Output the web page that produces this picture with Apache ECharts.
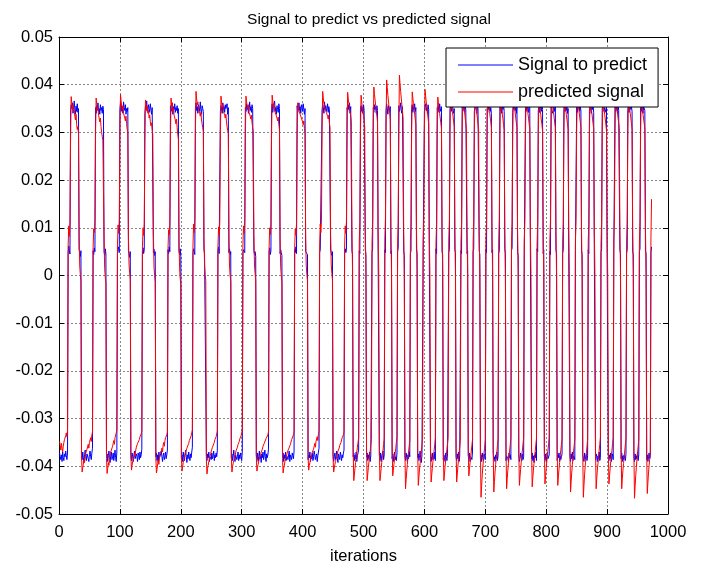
<!DOCTYPE html>
<html>
<head>
<meta charset="utf-8">
<script src="https://cdn.jsdelivr.net/npm/echarts@6/dist/echarts.min.js"></script>
<style>html,body{margin:0;padding:0;background:#fff}#c{width:703px;height:570px}</style>
</head>
<body>
<div id="c"></div>
<script>
// values in units of 1e-4, one value per iteration (1..N)
const signalToPredict = [
-372,-380,-386,-376,-390,-370,-382,-388,-374,-380,-368,-378,-386,-372,
48,62,52,45,345,358,350,362,340,352,366,348,338,355,344,360,342,350,55,48,40,52,-378,-386,-370,-382,-392,-376,-366,-380,-388,-374,-370,-384,-390,-375,-368,-380,-386,-372,-362,
52,44,58,50,352,340,356,348,362,344,350,338,358,346,352,340,355,348,50,42,56,45,-382,-374,-390,-378,-368,-384,-392,-376,-370,-386,-380,-372,-388,-378,-366,-382,-390,-370,
46,55,60,48,348,362,344,356,350,340,364,352,346,358,338,350,344,352,52,46,38,50,-376,-388,-372,-380,-390,-378,-368,-384,-386,-374,-380,-390,-372,-378,-386,-370,-382,-376,-364,
50,58,46,54,340,356,350,366,344,352,358,342,350,360,346,338,352,348,48,55,42,50,-380,-372,-388,-376,-392,-370,-382,-386,-374,-368,-380,-390,-378,-372,-386,-380,-370,-384,-376,-366,
54,46,60,50,356,344,350,362,338,354,348,360,342,352,346,356,340,350,50,44,56,40,-384,-376,-390,-370,-382,-388,-374,-366,-380,-392,-376,-384,-370,-380,-388,-374,-382,-370,-360,
48,56,50,44,350,362,346,354,340,358,352,344,364,348,338,356,350,344,54,46,50,42,-378,-388,-374,-382,-370,-390,-380,-376,-386,-372,-384,-378,-368,-388,-376,-382,-372,-380,-366,
52,60,46,50,344,356,352,340,362,348,354,342,358,350,346,360,338,352,48,56,44,50,-382,-374,-388,-378,-366,-384,-390,-376,-372,-386,-380,-370,-388,-376,-384,-372,-380,-388,-368,
46,54,58,48,352,344,360,348,356,340,350,364,346,354,342,358,350,346,52,44,50,40,-376,-386,-372,-390,-380,-368,-384,-378,-392,-374,-382,-370,-386,-378,-366,-380,-390,-374,-382,-376,-364,
50,58,44,52,348,360,342,354,350,366,344,352,338,356,348,342,360,350,46,54,48,42,-380,-372,-390,-376,-384,-370,-388,-378,-374,-386,-382,-368,-390,-376,-380,-386,-372,-378,-384,-368,
54,48,60,46,356,342,350,362,346,354,340,358,352,344,360,348,338,350,50,46,54,44,-386,-376,-382,-370,-390,-378,-384,-372,-388,-380,-368,-376,-386,-382,-374,-390,-378,-370,-362,
48,54,50,58,346,358,352,340,364,348,356,344,350,360,342,354,348,352,54,48,42,50,-376,-390,-380,-372,-386,-378,-368,-384,-392,-374,-380,-386,-370,-378,-388,-376,-382,-372,-366,
50,56,48,54,352,344,358,348,362,340,354,350,52,44,-380,-372,-388,-376,-384,-370,-390,-378,-374,-366,
52,46,348,356,344,352,340,358,346,350,54,44,-380,-372,-388,-376,-384,-370,-390,-378,-374,
48,56,352,342,358,348,354,340,356,346,50,46,-376,-386,-372,-390,-378,-382,-368,-386,-376,
54,48,346,360,350,338,356,352,344,354,46,52,-384,-374,-390,-378,-370,-386,-380,-388,-372,
50,58,356,344,352,362,346,340,354,350,52,42,-378,-388,-372,-382,-390,-376,-384,-370,-380,
46,52,350,358,342,354,348,360,344,352,56,46,-382,-374,-388,-378,-368,-386,-392,-376,-372,
52,48,344,354,360,346,352,340,358,348,48,52,-376,-390,-380,-372,-386,-378,-384,-370,-388,
56,46,352,346,356,342,360,350,344,354,50,44,-386,-376,-382,-390,-372,-380,-388,-374,-378,
48,54,348,358,344,352,362,346,340,350,54,48,-380,-388,-374,-384,-370,-390,-378,-382,
52,46,356,344,350,360,342,354,348,352,46,52,-378,-384,-372,-390,-380,-376,-386,-370,
50,56,344,352,358,348,340,356,350,346,52,44,-384,-376,-390,-372,-382,-388,-374,-380,-386,
54,48,350,342,356,348,362,344,352,340,48,54,-372,-386,-380,-390,-376,-384,-370,-388,-378,
46,52,358,346,352,340,354,348,360,344,56,46,-388,-378,-374,-384,-390,-372,-382,-376,-386,
52,58,342,356,348,362,346,352,340,354,50,42,-376,-390,-384,-372,-380,-388,-374,-386,-380,
48,46,352,344,360,348,356,342,350,358,52,48,-384,-372,-388,-378,-392,-376,-382,-370,-388,
56,50,346,354,342,358,350,344,362,348,46,54,-378,-386,-374,-390,-380,-370,-384,-388,-376,
50,44,354,346,350,340,358,352,344,356,54,46,-388,-376,-382,-372,-390,-378,-386,-380,-374,
46,54,348,360,344,352,346,356,340,350,48,52,-380,-390,-374,-384,-370,-388,-378,-382,-386,
52,48,356,342,352,348,362,344,354,346,52,44,-376,-384,-390,-372,-386,-380,-374,-388,-378,
54,46,344,358,350,340,354,348,356,342,50,54,-386,-374,-380,-390,-378,-384,-370,-388,-382,
48,56,350,346,360,344,352,356,342,354,46,50,-378,-388,-376,-384,-372,-390,-380,-374,-386,
52,50,358,344,348,354,340,360,346,350,54,46,-384,-372,-390,-378,-386,-376,-382,-388,-374,
46,54,346,356,342,352,360,348,354,344,50,44,-380,-390,-374,-386,-378,-384,-370,-388,-376,
50,56,352,344,358,348,340,354,350,346,52,46,-386,-376,-390,-380,-372,-384,-378,48,60
];
const predictedSignal = [
-348,-356,-366,-352,-362,-370,-358,-350,-344,-340,-336,-330,-338,-326,
62,104,82,110,288,375,362,350,358,342,348,334,326,338,316,306,312,298,84,20,2,-12,-380,-412,-402,-396,-386,-392,-378,-372,-376,-364,-360,-354,-362,-350,-346,-340,-348,-334,-328,
58,98,90,114,296,372,358,346,352,336,340,322,330,312,300,292,284,280,76,14,-4,-16,-384,-415,-404,-392,-398,-384,-376,-370,-366,-372,-358,-352,-346,-354,-340,-336,-330,-324,
64,106,88,116,300,380,366,354,348,356,340,344,330,324,334,318,306,300,80,24,4,-8,-378,-408,-398,-390,-394,-380,-372,-378,-366,-360,-364,-352,-348,-356,-344,-338,-342,-332,-326,
60,100,84,108,284,368,360,346,354,340,346,330,336,322,314,320,306,296,86,18,0,-14,-382,-414,-406,-394,-388,-396,-382,-374,-378,-368,-362,-370,-356,-350,-358,-346,-340,-344,-334,-328,
56,96,86,112,290,372,356,362,344,350,336,340,326,318,328,310,296,286,78,16,-6,-18,-380,-410,-400,-392,-386,-390,-376,-370,-374,-362,-358,-366,-352,-346,-350,-342,-336,-330,-324,
62,108,90,118,302,386,370,358,364,348,352,340,334,342,326,318,310,302,82,22,2,-10,-386,-416,-404,-398,-390,-394,-380,-374,-368,-372,-360,-356,-362,-350,-344,-348,-338,-332,-326,
58,102,86,112,294,376,362,352,358,344,348,336,330,338,322,312,304,298,80,20,0,-12,-382,-412,-400,-394,-388,-392,-378,-372,-366,-370,-360,-354,-358,-348,-342,-346,-336,-330,-324,
62,104,88,114,296,376,364,356,350,358,342,346,334,328,336,320,310,302,84,22,4,-10,-380,-410,-402,-396,-390,-384,-388,-376,-370,-374,-364,-358,-362,-352,-348,-354,-342,-338,-344,-334,-328,
60,100,86,110,292,378,366,354,360,346,350,338,342,330,324,332,316,306,78,18,0,-14,-384,-414,-404,-398,-390,-394,-382,-376,-370,-374,-364,-360,-366,-354,-350,-344,-348,-340,-334,-328,
58,98,84,108,286,362,354,346,350,338,342,330,334,322,316,324,308,298,82,20,2,-12,-380,-408,-398,-392,-386,-390,-376,-370,-374,-364,-358,-352,-360,-348,-344,-338,-346,-332,-326,
64,108,90,116,304,386,372,360,364,350,354,342,346,334,328,336,320,310,84,24,4,-8,-382,-412,-404,-396,-390,-392,-380,-374,-368,-372,-362,-356,-360,-350,-346,-340,-344,-334,-328,
62,104,88,114,300,384,370,360,352,344,334,322,96,10,-360,-430,-418,-404,-392,-380,-370,-360,-350,-340,
70,110,296,378,364,352,344,334,324,312,96,6,-362,-430,-416,-402,-390,-380,-368,-356,-344,
66,116,304,395,380,368,356,346,334,322,92,10,-358,-430,-418,-404,-392,-378,-366,-354,-342,
74,120,310,410,394,378,366,352,340,326,100,4,-354,-420,-408,-396,-384,-372,-362,-350,-338,
68,114,312,420,402,386,372,358,344,330,94,-2,-366,-447,-428,-410,-396,-382,-370,-358,-346,
72,110,298,385,372,360,350,338,328,316,98,8,-364,-440,-422,-406,-394,-380,-368,-356,-342,
70,118,302,390,376,364,352,342,330,318,90,6,-360,-433,-418,-404,-390,-378,-366,-354,-340,
66,112,296,374,362,350,340,330,320,308,96,10,-358,-430,-416,-400,-388,-376,-364,-352,-340,
72,114,300,380,366,354,344,334,322,312,94,4,-362,-433,-416,-400,-386,-372,-360,-346,
68,110,298,378,364,352,342,330,320,308,100,8,-356,-420,-406,-392,-380,-368,-356,-344,
70,116,296,376,362,350,340,330,318,306,92,2,-370,-465,-440,-418,-400,-386,-372,-358,-344,
74,112,300,380,366,356,344,332,322,310,96,6,-366,-454,-432,-412,-396,-382,-370,-356,-342,
68,118,298,374,362,350,338,328,316,304,90,0,-364,-447,-426,-408,-394,-380,-366,-354,-340,
72,110,302,378,364,352,342,330,320,310,98,8,-362,-440,-422,-406,-392,-378,-366,-352,-340,
70,114,300,376,362,352,340,330,318,308,94,4,-364,-443,-424,-408,-394,-380,-368,-354,-342,
66,112,296,372,360,348,338,326,316,304,96,6,-360,-437,-420,-404,-390,-378,-364,-352,-340,
72,116,302,378,366,354,342,332,320,310,92,2,-362,-440,-422,-406,-392,-378,-366,-354,-342,
68,110,298,374,362,350,338,328,318,306,98,8,-366,-454,-432,-412,-396,-382,-368,-356,-342,
74,118,304,380,366,354,344,332,322,310,94,4,-370,-465,-440,-418,-400,-386,-372,-358,-344,
70,112,300,376,362,350,340,330,318,308,96,6,-364,-447,-426,-408,-394,-380,-366,-354,-340,
66,114,296,372,360,348,338,328,316,304,92,2,-360,-437,-420,-404,-390,-378,-366,-352,-340,
72,116,302,378,364,352,342,330,320,310,98,8,-364,-447,-426,-408,-394,-380,-368,-354,-342,
70,110,300,376,362,350,340,330,318,306,94,4,-370,-467,-442,-420,-402,-386,-372,-358,-344,
68,114,298,374,362,350,338,328,318,306,96,6,-368,-457,-434,-414,-398,-384,-370,80,160
];
const UNIT = 1e-4;
const seriesNames = ['Signal to predict', 'predicted signal'];
const titleText = 'Signal to predict vs predicted signal';
const xName = 'iterations';
const xRange = [0, 1000, 100];
const yRange = [-0.05, 0.05, 0.01];

const FONT = '"Liberation Sans", Arial, sans-serif';
const toXY = arr => arr.map((v, i) => [i + 1, v * UNIT]);

const chart = echarts.init(document.getElementById('c'), null, {renderer: 'canvas'});
const axisCommon = {
  axisLine: {show: true, onZero: false, lineStyle: {color: '#000', width: 1}},
  axisTick: {show: true, inside: true, length: 5, lineStyle: {color: '#000'}},
};
chart.setOption({
  animation: false,
  backgroundColor: '#fff',
  title: {
    text: titleText, left: 364, top: 7, textAlign: 'center',
    textStyle: {fontFamily: FONT, fontSize: 15.5, fontWeight: 'normal', color: '#000'}
  },
  grid: {left: 59, right: 35, top: 37, bottom: 53},
  legend: {
    orient: 'vertical', left: 446, top: 48,
    padding: [7, 11, 5, 12], itemGap: 7, itemWidth: 55, itemHeight: 1,
    icon: 'rect',
    backgroundColor: '#fff', borderColor: '#000', borderWidth: 1,
    textStyle: {fontFamily: FONT, fontSize: 18, color: '#000', lineHeight: 20},
    data: seriesNames
  },
  xAxis: [
    Object.assign({
      type: 'value', min: xRange[0], max: xRange[1], interval: xRange[2],
      name: xName, nameLocation: 'middle', nameGap: 34,
      nameTextStyle: {fontFamily: FONT, fontSize: 16.5, color: '#000'},
      axisLabel: {fontFamily: FONT, fontSize: 16.5, color: '#000', margin: 10, formatter: v => String(v)},
      splitLine: {show: true, lineStyle: {color: '#888', type: [2, 2], width: 1}}
    }, axisCommon),
    Object.assign({
      type: 'value', position: 'top', min: xRange[0], max: xRange[1], interval: xRange[2],
      axisLabel: {show: false}, splitLine: {show: false}
    }, axisCommon)
  ],
  yAxis: [
    Object.assign({
      type: 'value', min: yRange[0], max: yRange[1], interval: yRange[2],
      axisLabel: {fontFamily: FONT, fontSize: 16.5, color: '#000', margin: 6},
      splitLine: {show: true, lineStyle: {color: '#888', type: [2, 2], width: 1}}
    }, axisCommon),
    Object.assign({
      type: 'value', position: 'right', min: yRange[0], max: yRange[1], interval: yRange[2],
      axisLabel: {show: false}, splitLine: {show: false}
    }, axisCommon)
  ],
  series: [
    {name: seriesNames[0], type: 'line', data: toXY(signalToPredict), showSymbol: false, symbol: 'none',
     lineStyle: {color: '#0000ff', width: 1}, itemStyle: {color: '#0000ff'}, z: 2},
    {name: seriesNames[1], type: 'line', data: toXY(predictedSignal), showSymbol: false, symbol: 'none',
     lineStyle: {color: '#ff0000', width: 1}, itemStyle: {color: '#ff0000'}, z: 3}
  ]
});
</script>
</body>
</html>
